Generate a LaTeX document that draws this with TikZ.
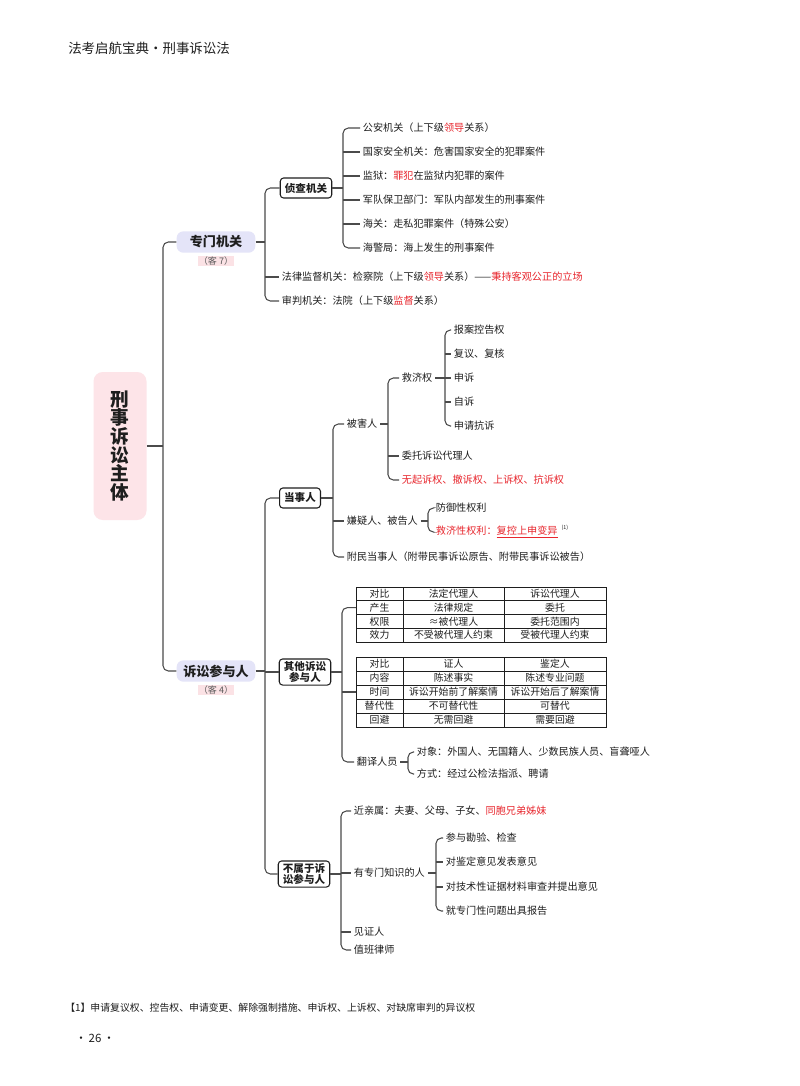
\documentclass[tikz,border=0pt]{standalone}
\usepackage{fontspec}
\setmainfont{Noto Sans CJK SC}
\definecolor{redA}{RGB}{232,38,45}
\definecolor{lnc}{RGB}{75,75,75}
\definecolor{txt}{RGB}{30,30,30}
\definecolor{lav}{RGB}{228,228,248}
\definecolor{pnk}{RGB}{253,228,232}
\definecolor{pnkB}{RGB}{251,226,229}
\newcommand{\fsz}{\fontsize{7.6pt}{9pt}\selectfont}
\newcommand{\tsz}{\fontsize{7.4pt}{9pt}\selectfont}
\newcommand{\rd}[1]{\textcolor{redA}{#1}}
\begin{document}
\begin{tikzpicture}[x=0.75pt,y=-0.75pt,
  ln/.style={draw=lnc, line width=0.8pt, rounded corners=4pt},
  lf/.style={anchor=west, inner sep=2pt, font=\fsz, text=txt},
  box/.style={draw=txt, line width=0.8pt, rounded corners=2.5pt, inner xsep=3.5pt, inner ysep=2pt, minimum height=15pt, font=\fontsize{7.9pt}{9pt}\selectfont\bfseries, text=txt, align=center},
  lavbox/.style={fill=lav, rounded corners=5pt, minimum width=59pt, minimum height=16pt, inner sep=1pt, font=\fontsize{9.8pt}{11pt}\selectfont\bfseries, text=txt},
  tag/.style={fill=pnkB, inner xsep=1pt, inner ysep=0.6pt, font=\fontsize{6.8pt}{7.5pt}\selectfont, text=black!65},
  root/.style={fill=pnk, rounded corners=7pt, minimum width=39.75pt, minimum height=111pt, align=center, font=\fontsize{14pt}{14pt}\selectfont\bfseries, text=txt},
  cell/.style={draw=txt, line width=0.6pt, inner sep=0pt, outer sep=0pt, anchor=north west, font=\tsz, text=txt}
]
\fill[white] (0,0) rectangle (800,1086);
\useasboundingbox (0,0) rectangle (800,1086);

% header and footer
\node[anchor=west, inner sep=0, font=\fontsize{10.1pt}{12pt}\selectfont, text=txt] (hd) at (68,48) {法考启航宝典・刑事诉讼法};
\node[anchor=west, inner sep=0, font=\fontsize{7.4pt}{8.6pt}\selectfont, text=txt] (fn) at (65,1008) {【1】申请复议权、控告权、申请变更、解除强制措施、申诉权、上诉权、对缺席审判的异议权};
\node[anchor=west, inner sep=0, font=\fontsize{8.6pt}{10pt}\selectfont, text=txt] (pg) at (75,1038) {·\,26\,·};

% bracket x positions
\coordinate (T0) at (163,0);
\coordinate (B1) at (265,0);
\coordinate (B2) at (343,0);
\coordinate (B4) at (333,0);
\coordinate (B5) at (388,0);
\coordinate (B6) at (445,0);
\coordinate (B7) at (428,0);
\coordinate (B8) at (342,0);
\coordinate (B9) at (408,0);
\coordinate (B10) at (341,0);
\coordinate (B11) at (436,0);

% root
\node[root] (rt) at (120,446) {刑\\事\\诉\\讼\\主\\体};

% upper part
\node[lavbox] (zm) at (216,242) {专门机关};
\node[tag] (k7) at (216,261) {（客 7）};
\node[box] (zc) at (306,188) {侦查机关};
\node[lf] (g1) at (360,128) {公安机关（上下级\rd{领导}关系）};
\node[lf] (g2) at (360,152) {国家安全机关：危害国家安全的犯罪案件};
\node[lf] (g3) at (360,176) {监狱：\rd{罪犯}在监狱内犯罪的案件};
\node[lf] (g4) at (360,200) {军队保卫部门：军队内部发生的刑事案件};
\node[lf] (g5) at (360,224) {海关：走私犯罪案件（特殊公安）};
\node[lf] (g6) at (360,248) {海警局：海上发生的刑事案件};
\node[lf] (fl) at (279,277) {法律监督机关：检察院（上下级\rd{领导}关系）——\rd{秉持客观公正的立场}};
\node[lf] (sp) at (279,301) {审判机关：法院（上下级\rd{监督}关系）};

% lower part
\node[lavbox] (sc) at (216,671) {诉讼参与人};
\node[tag] (k4) at (216,690) {（客 4）};
\node[box] (ds) at (300,498) {当事人};
\node[lf] (bh) at (344,424) {被害人};
\node[lf] (xy) at (344,521) {嫌疑人、被告人};
\node[lf] (fm) at (344,557) {附民当事人（附带民事诉讼原告、附带民事诉讼被告）};
\node[lf] (jj) at (399,378) {救济权};
\node[lf] (wt) at (399,456) {委托诉讼代理人};
\node[lf] (wq) at (399,480) {\rd{无起诉权、撤诉权、上诉权、抗诉权}};
\node[lf] (j1) at (451,330) {报案控告权};
\node[lf] (j2) at (451,354) {复议、复核};
\node[lf] (j3) at (451,378) {申诉};
\node[lf] (j4) at (451,402) {自诉};
\node[lf] (j5) at (451,426) {申请抗诉};
\node[lf] (fy1) at (433,508) {防御性权利};
\node[lf] (fy2) at (433,532) {\rd{救济性权利：\underline{复控上申变异}}\hspace{3pt}\raisebox{0.9ex}{\fontsize{4pt}{4pt}\selectfont (1)}};

\node[box] (qt) at (305,672) {其他诉讼\\[-1pt]参与人};
% table 1
\foreach \a/\b/\c [count=\i] in {对比/法定代理人/诉讼代理人,产生/法律规定/委托,权限/≈被代理人/委托范围内,效力/不受被代理人约束/受被代理人约束}{
  \node[cell, minimum width=35.25pt, minimum height=10.31pt] (ta-\i-a) at (356,{587+13.75*(\i-1)}) {\a};
  \node[cell, minimum width=75.75pt, minimum height=10.31pt] (ta-\i-b) at (403,{587+13.75*(\i-1)}) {\b};
  \node[cell, minimum width=76.5pt, minimum height=10.31pt] (ta-\i-c) at (504,{587+13.75*(\i-1)}) {\c};
}
% table 2
\foreach \a/\b/\c [count=\i] in {对比/证人/鉴定人,内容/陈述事实/陈述专业问题,时间/诉讼开始前了解案情/诉讼开始后了解案情,替代性/不可替代性/可替代,回避/无需回避/需要回避}{
  \node[cell, minimum width=35.25pt, minimum height=10.5pt] (tb-\i-a) at (356,{657+14*(\i-1)}) {\a};
  \node[cell, minimum width=75.75pt, minimum height=10.5pt] (tb-\i-b) at (403,{657+14*(\i-1)}) {\b};
  \node[cell, minimum width=76.5pt, minimum height=10.5pt] (tb-\i-c) at (504,{657+14*(\i-1)}) {\c};
}
\node[lf] (fy) at (354,762) {翻译人员};
\node[lf] (fo1) at (414,752) {对象：外国人、无国籍人、少数民族人员、盲聋哑人};
\node[lf] (fo2) at (414,774) {方式：经过公检法指派、聘请};

\node[box] (bs) at (304,874) {不属于诉\\[-1pt]讼参与人};
\node[lf] (n1) at (351,811) {近亲属：夫妻、父母、子女、\rd{同胞兄弟姊妹}};
\node[lf] (n2) at (351,873) {有专门知识的人};
\node[lf] (n3) at (351,932) {见证人};
\node[lf] (n4) at (351,950) {值班律师};
\node[lf] (m1) at (443,838) {参与勘验、检查};
\node[lf] (m2) at (443,862) {对鉴定意见发表意见};
\node[lf] (m3) at (443,887) {对技术性证据材料审查并提出意见};
\node[lf] (m4) at (443,911) {就专门性问题出具报告};

% connectors
\draw[ln] (rt.east) -- (rt.east -| T0);
\draw[ln] (zm.west) -- (zm.west -| T0) -- (sc.west -| T0) -- (sc.west);

\draw[ln] (zm.east) -- (zm.east -| B1);
\draw[ln] (zc.west) -- (zc.west -| B1) -- (sp.west -| B1) -- (sp.west);
\draw[ln] (fl.west -| B1) -- (fl.west);

\draw[ln] (zc.east) -- (zc.east -| B2);
\draw[ln] (g1.west) -- (g1.west -| B2) -- (g6.west -| B2) -- (g6.west);
\foreach \n in {g2,g3,g4,g5} \draw[ln] (\n.west -| B2) -- (\n.west);

\draw[ln] (sc.east) -- (sc.east -| B1);
\draw[ln] (ds.west) -- (ds.west -| B1) -- (bs.west -| B1) -- (bs.west);
\draw[ln] (qt.west -| B1) -- (qt.west);

\draw[ln] (ds.east) -- (ds.east -| B4);
\draw[ln] (bh.west) -- (bh.west -| B4) -- (fm.west -| B4) -- (fm.west);
\draw[ln] (xy.west -| B4) -- (xy.west);

\draw[ln] (bh.east) -- (bh.east -| B5);
\draw[ln] (jj.west) -- (jj.west -| B5) -- (wq.west -| B5) -- (wq.west);
\draw[ln] (wt.west -| B5) -- (wt.west);

\draw[ln] (jj.east) -- (jj.east -| B6);
\draw[ln] (j1.west) -- (j1.west -| B6) -- (j5.west -| B6) -- (j5.west);
\foreach \n in {j2,j3,j4} \draw[ln] (\n.west -| B6) -- (\n.west);

\draw[ln] (xy.east) -- (xy.east -| B7);
\draw[ln] (fy1.west) -- (fy1.west -| B7) -- (fy2.west -| B7) -- (fy2.west);

\draw[ln] (qt.east) -- (qt.east -| B8);
\draw[ln] (ta-2-a.west) -- (ta-2-a.west -| B8) -- (fy.west -| B8) -- (fy.west);
\draw[ln] (tb-3-a.west -| B8) -- (tb-3-a.west);

\draw[ln] (fy.east) -- (fy.east -| B9);
\draw[ln] (fo1.west) -- (fo1.west -| B9) -- (fo2.west -| B9) -- (fo2.west);

\draw[ln] (bs.east) -- (bs.east -| B10);
\draw[ln] (n1.west) -- (n1.west -| B10) -- (n4.west -| B10) -- (n4.west);
\foreach \n in {n2,n3} \draw[ln] (\n.west -| B10) -- (\n.west);

\draw[ln] (n2.east) -- (n2.east -| B11);
\draw[ln] (m1.west) -- (m1.west -| B11) -- (m4.west -| B11) -- (m4.west);
\foreach \n in {m2,m3} \draw[ln] (\n.west -| B11) -- (\n.west);
\end{tikzpicture}
\end{document}
